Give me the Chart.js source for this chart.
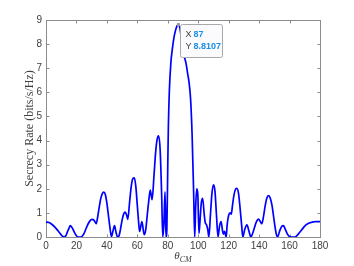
<!DOCTYPE html>
<html>
<head>
<meta charset="utf-8">
<script src="https://cdn.jsdelivr.net/npm/chart.js@4.4.1/dist/chart.umd.min.js"></script>
<style>
html, body { margin: 0; padding: 0; background: #fff; }
canvas { display: block; }
</style>
</head>
<body>
<canvas id="chart" width="354" height="266"></canvas>
<script>
// angle (deg) and secrecy rate
const angles = [
    0, 2, 4, 6, 8, 10, 11, 12, 13, 14, 15, 16, 17, 18, 19, 20, 21, 22, 23, 24, 25, 26, 27, 28, 29, 30,
    31, 32, 33, 34, 35, 36, 37, 38, 39, 40, 41, 42, 43, 44, 45, 46, 47, 48, 49, 50, 51, 52, 53, 53.7,
    55, 56, 57, 58, 59, 60, 61, 61.5, 63, 64.5, 65.5, 66.5, 67.5, 68.5, 69.7, 71, 72, 73, 74, 75, 76, 76.7,
    77.4, 78.2, 78.8, 79.4, 80, 80.4, 81, 82, 83, 84, 85, 86, 87, 88, 89, 90, 91, 92, 93, 94, 95, 96, 97,
    97.7, 98.3, 99, 99.7, 100.5, 101.2, 102, 102.9, 104, 104.6, 105.5, 106.3, 107, 108, 109, 110.1, 111,
    112, 113, 114, 115, 116, 116.5, 117.3, 118.4, 119, 120, 121, 121.7, 122.5, 123.5, 124.5, 125.4,
    126.5, 127.5, 128.5, 129.3, 130.5, 132, 133.3, 134.6, 136, 137, 138, 139.6, 140.7, 141.8, 143, 144,
    145, 146.2, 147.3, 148.5, 149.5, 150.5, 151.3, 152.1, 153.5, 155, 156, 157, 158, 159, 160.3, 162,
    163.6, 165, 166, 167, 168, 169, 170, 171, 172, 173, 174, 175, 176, 177, 178, 179, 180
];
const rates = [
    0.62, 0.6, 0.52, 0.4, 0.25, 0.09, 0.02, 0.0, 0.05, 0.2, 0.35, 0.47, 0.4, 0.28, 0.15, 0.05, 0.0, 0.0, 0.0, 0.05, 0.15, 0.3, 0.45, 0.58, 0.68, 0.73,
    0.72, 0.65, 0.55, 0.85, 1.25, 1.6, 1.8, 1.86, 1.75, 1.4, 0.9, 0.4, 0.02, 0.25, 0.47, 0.2, 0.0, 0.05, 0.35, 0.7, 0.95, 1.03, 0.9, 0.73,
    1.5, 2.1, 2.42, 2.45, 2.1, 1.3, 0.5, 0.23, 0.64, 0.1, 0.3, 0.9, 1.5, 1.95, 1.55, 2.6, 3.5, 4.05, 4.2, 3.6, 1.7, 0.0,
    0.5, 1.87, 0.0, 0.3, 3.0, 4.6, 6.0, 7.2, 7.8, 8.25, 8.55, 8.75, 8.8107, 8.65, 8.2, 7.75, 7.45, 7.2, 6.8, 6.4, 5.7, 4.2, 1.8,
    0.0, 1.2, 2.0, 1.8, 0.15, 0.7, 1.4, 1.6, 0.9, 0.6, 0.5, 0.3, 0.0, 0.9, 1.8, 2.16, 1.9,
    0.9, 0.0, 0.45, 0.64, 0.25, 0.12, 0.23, 0.0, 0.5, 0.9, 1.0, 0.95, 1.3, 1.75, 1.98, 2.02,
    1.8, 1.2, 0.5, 0.0, 0.3, 0.5, 0.25, 0.0, 0.2, 0.4, 0.6, 0.74, 0.65, 0.55, 0.9, 1.3,
    1.6, 1.72, 1.62, 1.3, 0.85, 0.4, 0.12, 0.0, 0.25, 0.45, 0.47, 0.35, 0.2, 0.08, 0.01, 0.0,
    0.0, 0.07, 0.14, 0.22, 0.3, 0.38, 0.45, 0.51, 0.55, 0.58, 0.6, 0.62, 0.63, 0.64, 0.64, 0.64, 0.64
];
const xTicks = [0, 20, 40, 60, 80, 100, 120, 140, 160, 180];
const yTicks = [0, 1, 2, 3, 4, 5, 6, 7, 8, 9];
const tipAngle = 87;
const tipRate = 8.8107;

const axisColor = '#8c8c8c';
const textColor = '#404040';

// caixa, marcas internas e titulos dos eixos (estilo MATLAB)
const axesBox = {
    id: 'axesBox',
    beforeDatasetsDraw(chart) {
        const { ctx, chartArea: a, scales: { x, y } } = chart;
        ctx.save();
        ctx.strokeStyle = axisColor;
        ctx.lineWidth = 1;
        const L = Math.round(a.left) + 0.5, R = Math.round(a.right) + 0.5;
        const T = Math.round(a.top) + 0.5, B = Math.round(a.bottom) + 0.5;
        ctx.strokeRect(L, T, R - L, B - T);
        ctx.beginPath();
        xTicks.forEach(v => {
            const px = Math.round(x.getPixelForValue(v)) + 0.5;
            ctx.moveTo(px, B); ctx.lineTo(px, B - 3);
            ctx.moveTo(px, T); ctx.lineTo(px, T + 3);
        });
        yTicks.forEach(v => {
            const py = Math.round(y.getPixelForValue(v)) + 0.5;
            ctx.moveTo(L, py); ctx.lineTo(L + 3, py);
            ctx.moveTo(R, py); ctx.lineTo(R - 3, py);
        });
        ctx.stroke();

        // titulo eixo y
        ctx.fillStyle = textColor;
        ctx.font = '12px "Liberation Serif", "DejaVu Serif", serif';
        ctx.textAlign = 'center';
        ctx.textBaseline = 'middle';
        ctx.save();
        ctx.translate(30, (a.top + a.bottom) / 2);
        ctx.rotate(-Math.PI / 2);
        ctx.fillText('Secrecy Rate (bits/s/Hz)', 0, 0);
        ctx.restore();

        // titulo eixo x: theta_CM
        const cx = (a.left + a.right) / 2;
        ctx.textAlign = 'left';
        ctx.textBaseline = 'alphabetic';
        ctx.font = 'italic 11px "Liberation Serif", "DejaVu Serif", serif';
        const wTheta = ctx.measureText('θ').width;
        ctx.font = 'italic 8px "Liberation Serif", "DejaVu Serif", serif';
        const wSub = ctx.measureText('CM').width;
        const x0 = cx - (wTheta + wSub) / 2;
        ctx.font = 'italic 11px "Liberation Serif", "DejaVu Serif", serif';
        ctx.fillText('θ', x0, 259);
        ctx.font = 'italic 8px "Liberation Serif", "DejaVu Serif", serif';
        ctx.fillText('CM', x0 + wTheta, 262);
        ctx.restore();
    },
    afterDraw(chart) {
        // data tip
        const { ctx, scales: { x, y } } = chart;
        const px = x.getPixelForValue(tipAngle);
        const py = y.getPixelForValue(tipRate);
        ctx.save();
        ctx.fillStyle = '#9a9a9a';
        ctx.fillRect(px - 1.5, py - 1.5, 3, 3);
        const bx = Math.round(px + 1.5) + 0.5, by = Math.round(py - 0.5) + 0.5;
        const bw = 42, bh = 33, r = 2;
        ctx.beginPath();
        ctx.moveTo(bx + r, by);
        ctx.lineTo(bx + bw - r, by);
        ctx.arcTo(bx + bw, by, bx + bw, by + r, r);
        ctx.lineTo(bx + bw, by + bh - r);
        ctx.arcTo(bx + bw, by + bh, bx + bw - r, by + bh, r);
        ctx.lineTo(bx + r, by + bh);
        ctx.arcTo(bx, by + bh, bx, by + bh - r, r);
        ctx.lineTo(bx, by + r);
        ctx.arcTo(bx, by, bx + r, by, r);
        ctx.closePath();
        ctx.fillStyle = '#fbfbfd';
        ctx.fill();
        ctx.strokeStyle = '#a8a8a8';
        ctx.lineWidth = 1;
        ctx.stroke();

        ctx.textBaseline = 'middle';
        ctx.textAlign = 'left';
        ctx.font = '9px "Liberation Sans", Arial, sans-serif';
        ctx.fillStyle = '#404040';
        ctx.fillText('X', bx + 5, by + 10.5);
        ctx.fillText('Y', bx + 5, by + 22.5);
        ctx.font = 'bold 9px "Liberation Sans", Arial, sans-serif';
        ctx.fillStyle = '#1a8fe8';
        ctx.fillText(String(tipAngle), bx + 13, by + 10.5);
        ctx.fillText(String(tipRate), bx + 13, by + 22.5);
        ctx.restore();
    }
};

const points = angles.map((a, i) => ({ x: a, y: rates[i] }));

new Chart(document.getElementById('chart').getContext('2d'), {
    type: 'scatter',
    data: {
        datasets: [{
            data: points,
            showLine: true,
            borderColor: '#0000ff',
            borderWidth: 1.7,
            pointRadius: 0,
            cubicInterpolationMode: 'monotone',
            fill: false
        }]
    },
    options: {
        responsive: false,
        animation: false,
        layout: { padding: { top: 20, right: 34, left: 0, bottom: 0 } },
        plugins: {
            legend: { display: false },
            tooltip: { enabled: false }
        },
        scales: {
            x: {
                type: 'linear',
                min: 0,
                max: 180,
                afterFit: s => { s.height = 29; },
                afterBuildTicks: s => { s.ticks = xTicks.map(v => ({ value: v })); },
                grid: { display: false, drawTicks: false },
                border: { display: false },
                ticks: {
                    autoSkip: false,
                    maxRotation: 0,
                    padding: 3,
                    color: textColor,
                    font: { family: '"Liberation Sans", Arial, sans-serif', size: 10 }
                }
            },
            y: {
                type: 'linear',
                min: 0,
                max: 9,
                afterFit: s => { s.width = 46; },
                afterBuildTicks: s => { s.ticks = yTicks.map(v => ({ value: v })); },
                grid: { display: false, drawTicks: false },
                border: { display: false },
                ticks: {
                    autoSkip: false,
                    padding: 4,
                    color: textColor,
                    font: { family: '"Liberation Sans", Arial, sans-serif', size: 10 }
                }
            }
        }
    },
    plugins: [axesBox]
});
</script>
</body>
</html>
